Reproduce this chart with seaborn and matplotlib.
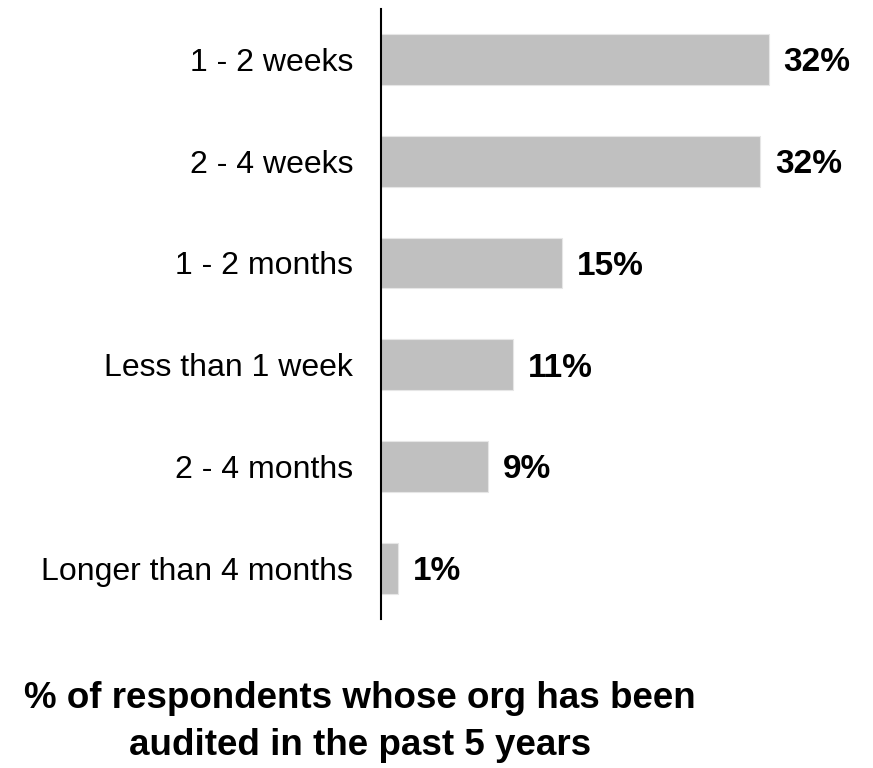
import matplotlib
matplotlib.use("Agg")
import matplotlib.pyplot as plt
import seaborn as sns
import pandas as pd

# Time taken to complete an audit
durations = ["1 - 2 weeks", "2 - 4 weeks", "1 - 2 months", "Less than 1 week",
             "2 - 4 months", "Longer than 4 months"]
shares = [32.3, 31.6, 15.1, 11.0, 8.9, 1.4]

df = pd.DataFrame({"duration": durations, "share": shares})

sns.set_theme(style="white")
plt.rcParams["font.family"] = ["Liberation Sans", "DejaVu Sans"]

fig = plt.figure(figsize=(8.73, 7.68), dpi=100)
ax = fig.add_axes([381 / 873, 1 - 619 / 768, 468 / 873, (619 - 8.6) / 768])

sns.barplot(data=df, x="share", y="duration", order=durations,
            color="#c0c0c0", width=0.5, saturation=1, ax=ax,
            edgecolor="#e6e6e6", linewidth=0.8)

ax.set_xlim(0, 39)
ax.set_ylim(5.5, -0.5)
ax.set_xlabel("")
ax.set_ylabel("")
ax.set_xticks([])
ax.tick_params(axis="y", length=0, pad=20, labelsize=23, labelcolor="black")

for side in ["top", "right", "bottom"]:
    ax.spines[side].set_visible(False)
ax.spines["left"].set_color("black")
ax.spines["left"].set_linewidth(1.5)

# value labels, baseline placed so the digits sit centred on each bar
for i, v in enumerate(shares):
    ax.annotate(f"{round(v):d}%", xy=(v, i), xytext=(15, -12),
                textcoords="offset pixels",
                va="baseline", ha="left", fontsize=24, fontweight="bold",
                color="black")

fig.text(360 / 873, 1 - 722 / 768,
         "% of respondents whose org has been\naudited in the past 5 years",
         ha="center", va="center", multialignment="center",
         fontsize=26.5, fontweight="bold", color="black", linespacing=1.48)

fig.savefig("out.png", dpi=100, facecolor="white")
